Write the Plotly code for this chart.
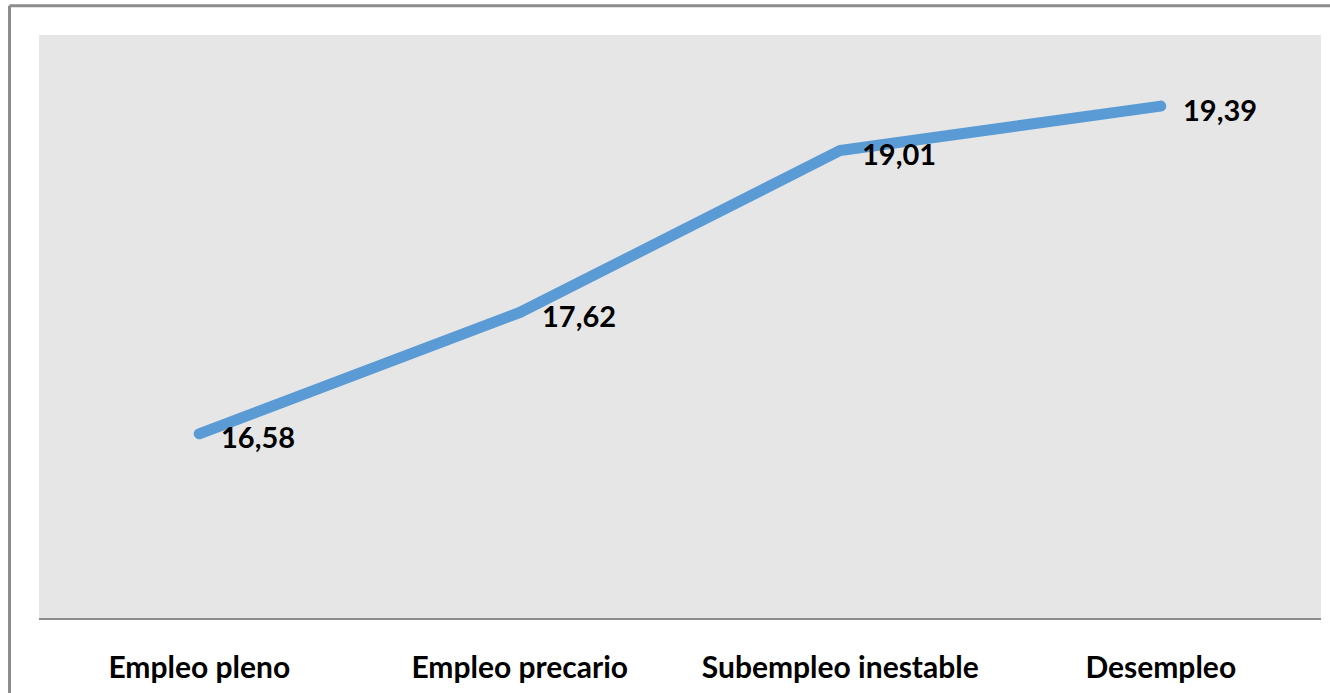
import plotly.graph_objects as go

categories = ["Empleo pleno", "Empleo precario", "Subempleo inestable", "Desempleo"]
values = [16.58, 17.62, 19.01, 19.39]
value_labels = ["16,58", "17,62", "19,01", "19,39"]

FONT = "Lato"
fig = go.Figure()
fig.add_trace(go.Scatter(
    x=categories, y=values, mode="lines",
    line=dict(color="#5B9BD5", width=11),
    hoverinfo="skip", showlegend=False,
))

for c, v, t in zip(categories, values, value_labels):
    fig.add_annotation(
        x=c, y=v, xref="x", yref="y", text="<b>" + t + "</b>",
        showarrow=False, xanchor="left", yanchor="middle",
        xshift=20, yshift=-3,
        font=dict(family=FONT, size=29, color="#000000"),
    )

W, H = 1330, 693
ml, mr, mt, mb = 39, 9, 35, 69
pw, ph = W - ml - mr, H - mt - mb

def px_x(px):
    return (px - ml) / pw

def px_y(py):
    return (H - mb - py) / ph

# outer frame (top and left edges visible)
fig.add_shape(type="line", xref="paper", yref="paper",
              x0=px_x(9.5), x1=px_x(1340), y0=px_y(5.5), y1=px_y(5.5),
              line=dict(color="#8C8C8C", width=3))
fig.add_shape(type="line", xref="paper", yref="paper",
              x0=px_x(9.5), x1=px_x(9.5), y0=px_y(5.5), y1=px_y(700),
              line=dict(color="#8C8C8C", width=3))

fig.update_layout(
    width=W, height=H,
    margin=dict(l=ml, r=mr, t=mt, b=mb),
    paper_bgcolor="#FFFFFF",
    plot_bgcolor="#E6E6E6",
    font=dict(family=FONT),
    xaxis=dict(
        tickmode="array", tickvals=categories,
        ticktext=["<b>" + c + "</b>" for c in categories],
        tickfont=dict(family=FONT, size=30, color="#000000"),
        showline=True, linecolor="#8C8C8C", linewidth=2,
        showgrid=False, zeroline=False,
        ticks="outside", ticklen=22, tickcolor="rgba(0,0,0,0)",
        range=[-0.5, 3.5], fixedrange=True,
    ),
    yaxis=dict(
        range=[15, 20], showticklabels=False, showgrid=False,
        zeroline=False, showline=False, fixedrange=True,
    ),
)

post = """
document.body.style.margin = '0';
document.body.style.overflow = 'hidden';
document.querySelectorAll('.js-line').forEach(function(p){
  p.style.strokeLinecap = 'round';
  p.style.strokeLinejoin = 'round';
});
"""
fig.write_html("out.html", post_script=post, config={"displayModeBar": False})
